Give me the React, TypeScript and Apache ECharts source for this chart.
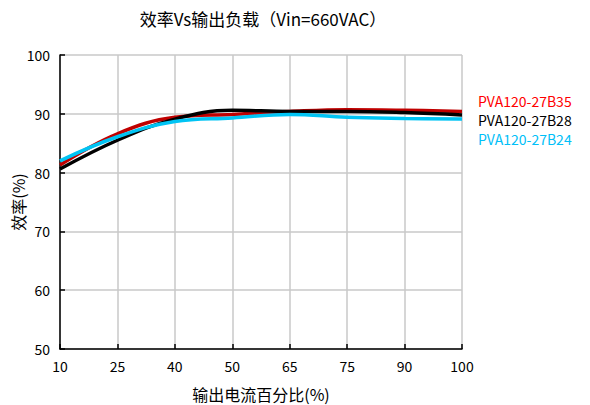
import React, { useEffect, useRef } from "react";
import * as echarts from "echarts";

const loadLabels = ["10", "25", "40", "50", "65", "75", "90", "100"];
const seriesNames = ["PVA120-27B35", "PVA120-27B28", "PVA120-27B24"];
const red35 = [81.3, 86.6, 89.4, 89.9, 90.4, 90.7, 90.6, 90.4];
const black28 = [80.6, 85.5, 89.1, 90.6, 90.4, 90.4, 90.2, 89.8];
const cyan24 = [82.0, 86.1, 88.7, 89.3, 89.9, 89.4, 89.2, 89.1];
const lineColors = ["#c00000", "#000000", "#00c4f4"];
const legendColors = ["#ff0000", "#000000", "#00c0f8"];

const FONT = "'Noto Sans CJK SC', 'Liberation Sans', sans-serif";

export default function App() {
  const ref = useRef<HTMLDivElement>(null);
  useEffect(() => {
    if (!ref.current) return;
    const chart = echarts.init(ref.current, null, { renderer: "svg" });
    const values = [red35, black28, cyan24];
    chart.setOption({
      animation: false,
      backgroundColor: "#ffffff",
      textStyle: { fontFamily: FONT },
      graphic: [
        {
          type: "text",
          x: 263,
          y: 18,
          style: {
            text: "效率Vs输出负载（Vin=660VAC）",
            fontSize: 17,
            fontFamily: FONT,
            fill: "#000",
            textAlign: "center",
            textVerticalAlign: "middle",
          },
        },
      ],
      legend: {
        orient: "vertical",
        left: 468,
        top: 89,
        icon: "none",
        itemWidth: 0,
        itemHeight: 14,
        itemGap: 5,
        selectedMode: false,
        data: seriesNames.map((n, i) => ({
          name: n,
          textStyle: { color: legendColors[i], fontSize: 14, fontFamily: FONT },
        })),
      },
      grid: {
        left: 60,
        right: 128,
        top: 55,
        bottom: 56,
        containLabel: false,
        outerBoundsMode: "none",
      },
      xAxis: {
        type: "category",
        data: loadLabels,
        boundaryGap: false,
        name: "输出电流百分比(%)",
        nameLocation: "middle",
        nameGap: 37,
        nameMoveOverlap: false,
        nameTextStyle: { fontSize: 16, color: "#000", fontFamily: FONT },
        axisLine: { lineStyle: { color: "#000", width: 1.5 } },
        axisTick: { inside: true, length: 5, lineStyle: { color: "#000", width: 1.5 } },
        axisLabel: { color: "#000", fontSize: 14, margin: 10, fontFamily: FONT },
        splitLine: { show: true, lineStyle: { color: "#c8c8c8", width: 1.5 } },
      },
      yAxis: {
        type: "value",
        min: 50,
        max: 100,
        interval: 10,
        name: "效率(%)",
        nameLocation: "middle",
        nameGap: 34,
        nameMoveOverlap: false,
        nameRotate: 90,
        nameTextStyle: { fontSize: 16, color: "#000", fontFamily: FONT },
        axisLine: { show: true, lineStyle: { color: "#000", width: 1.5 } },
        axisTick: { show: true, inside: true, length: 5, lineStyle: { color: "#000", width: 1.5 } },
        axisLabel: { color: "#000", fontSize: 14, margin: 10, fontFamily: FONT },
        splitLine: { show: true, lineStyle: { color: "#c8c8c8", width: 1.5 } },
      },
      series: seriesNames.map((n, i) => ({
        name: n,
        type: "line",
        data: values[i],
        smooth: 0.4,
        symbol: "none",
        lineStyle: { color: lineColors[i], width: 3.5 },
        itemStyle: { color: lineColors[i] },
      })),
    });
    return () => chart.dispose();
  }, []);
  return (
    <div
      ref={ref}
      style={{ position: "fixed", left: 0, top: 0, width: 590, height: 405 }}
    />
  );
}
